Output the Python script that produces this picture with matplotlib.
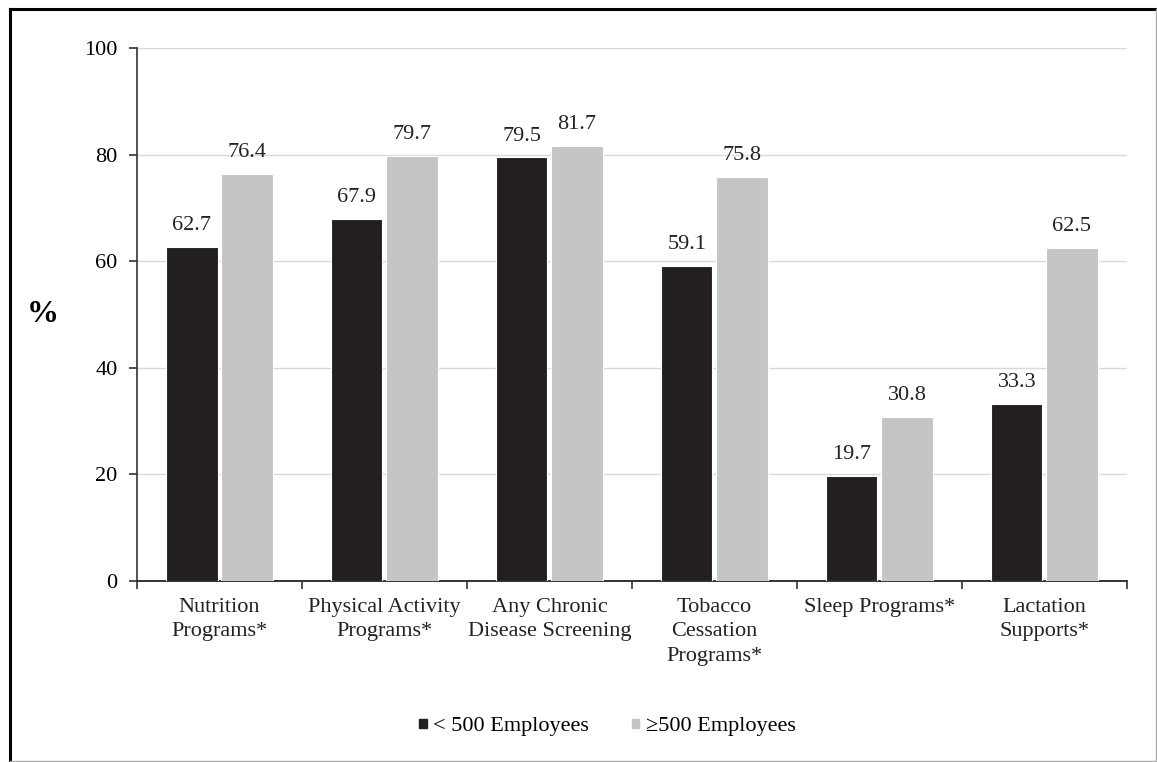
import matplotlib.pyplot as plt
import numpy as np
from matplotlib.lines import Line2D
from matplotlib.patches import Patch

plt.rcParams['font.family'] = ['Liberation Serif', 'DejaVu Serif']

categories = ['Nutrition\nPrograms*', 'Physical Activity\nPrograms*', 'Any Chronic\nDisease Screening',
              'Tobacco\nCessation\nPrograms*', 'Sleep Programs*', 'Lactation\nSupports*']
small = [62.7, 67.9, 79.5, 59.1, 19.7, 33.3]
large = [76.4, 79.7, 81.7, 75.8, 30.8, 62.5]
series_names = ['< 500 Employees', '\u2265500 Employees']
dark = '#231f20'
light = '#c4c5c7'

fig = plt.figure(figsize=(11.57, 7.62), dpi=100)
ax = fig.add_axes([0.1184, 0.2375, 0.8556, 0.6995])

x = np.arange(len(categories))
w = 0.31
b1 = ax.bar(x - 0.167, small, w, color=dark, edgecolor='white', linewidth=0.8, zorder=3)
b2 = ax.bar(x + 0.167, large, w, color=light, edgecolor='white', linewidth=0.8, zorder=3)

for bars, vals in ((b1, small), (b2, large)):
    for r, v in zip(bars, vals):
        ax.text(r.get_x() + r.get_width() / 2, v + 2.2, f'{v:.1f}', ha='center', va='bottom',
                fontsize=16, color='#222222')

ax.set_xlim(-0.5, len(categories) - 0.5)
ax.set_ylim(0, 100)
ax.set_yticks([0, 20, 40, 60, 80, 100])
ax.yaxis.grid(True, color='#d9d9d9', linewidth=1, zorder=0)
ax.set_axisbelow(True)
ax.tick_params(axis='y', labelsize=16, length=6, width=1.2, color='#333333', pad=8)

# category labels between boundary ticks
ax.set_xticks(np.arange(-0.5, len(categories), 1.0))
ax.set_xticklabels([])
ax.tick_params(axis='x', length=6, width=1.2, color='#333333')
for xi, lab in zip(x, categories):
    ax.text(xi, -3.2, lab, ha='center', va='top', fontsize=16, color='#222222',
            linespacing=1.38, transform=ax.transData)

for s in ('top', 'right'):
    ax.spines[s].set_visible(False)
ax.spines['left'].set_color('#333333')
ax.spines['left'].set_linewidth(1.2)
ax.spines['bottom'].set_color('#333333')
ax.spines['bottom'].set_linewidth(1.4)

fig.text(0.037, 0.587, '%', fontsize=23, fontweight='bold', ha='center', va='center')

handles = [Patch(color=dark), Patch(color=light)]
fig.legend(handles, series_names, loc='center', bbox_to_anchor=(0.525, 0.046), ncol=2, frameon=False,
           fontsize=16, handlelength=0.35, handleheight=0.3, handletextpad=0.3, columnspacing=1.9)

# frame around the figure
fig.add_artist(Line2D([0.0087, 0.0087], [0.0013, 0.988], color='black', linewidth=2.2, transform=fig.transFigure))
fig.add_artist(Line2D([0.0087, 0.999], [0.988, 0.988], color='black', linewidth=2.2, transform=fig.transFigure))
fig.add_artist(Line2D([0.999, 0.999], [0.0013, 0.988], color='#aaaaaa', linewidth=1, transform=fig.transFigure))
fig.add_artist(Line2D([0.0087, 0.999], [0.0013, 0.0013], color='#aaaaaa', linewidth=1, transform=fig.transFigure))

fig.savefig('out.png', dpi=100)
